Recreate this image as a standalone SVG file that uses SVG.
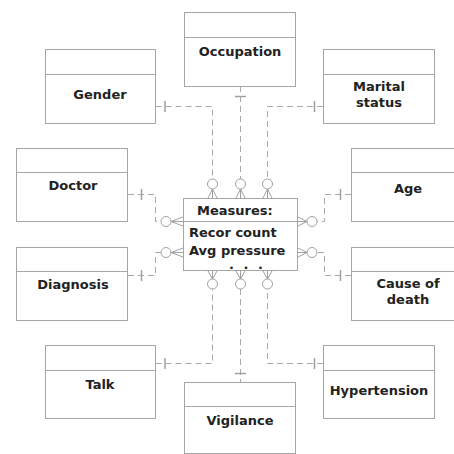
<svg xmlns="http://www.w3.org/2000/svg" width="454" height="454" viewBox="0 0 454 454">
<defs>
<style>
.box{fill:#fff;stroke:#a6a6a6;stroke-width:1}
.hd{stroke:#a6a6a6;stroke-width:1}
.t{font-family:"DejaVu Sans",Verdana,sans-serif;font-weight:bold;font-size:13px;fill:#222;text-anchor:middle}
.tl{font-family:"DejaVu Sans",Verdana,sans-serif;font-weight:bold;font-size:13px;fill:#222}
.d{fill:none;stroke:#a8a8a8;stroke-width:1;stroke-dasharray:6 4}
.s{fill:none;stroke:#a0a0a0;stroke-width:1}
.b{stroke:#a0a0a0;stroke-width:1.5}
.c{fill:#fff;stroke:#a0a0a0;stroke-width:1}
</style>
</defs>
<rect width="454" height="454" fill="#fff"/>
<g id="connectors">
<path class="d" d="M155.5 106.5 H212.5 V179"/>
<line class="b" x1="165" y1="101" x2="165" y2="112" stroke-width="2.5"/>
<path class="d" d="M240.5 86 V179"/>
<line class="b" x1="235" y1="96.5" x2="246" y2="96.5"/>
<path class="d" d="M323 106.5 H267.5 V179"/>
<line class="b" x1="314.5" y1="101" x2="314.5" y2="112"/>
<path class="d" d="M128 194.5 H155.5 V221.5 H161"/>
<line class="b" x1="141.5" y1="189" x2="141.5" y2="200"/>
<path class="d" d="M351 194.5 H324.5 V221.5 H317"/>
<line class="b" x1="340.5" y1="189" x2="340.5" y2="200"/>
<path class="d" d="M128 275.5 H155.5 V252.5 H161"/>
<line class="b" x1="141.5" y1="270" x2="141.5" y2="281"/>
<path class="d" d="M351 275.5 H324.5 V252.5 H317"/>
<line class="b" x1="340.5" y1="270" x2="340.5" y2="281"/>
<path class="d" d="M155.5 363.5 H212.5 V289"/>
<line class="b" x1="165" y1="358" x2="165" y2="369" stroke-width="2.5"/>
<path class="d" d="M240.5 289 V382"/>
<line class="b" x1="235" y1="373.5" x2="246" y2="373.5"/>
<path class="d" d="M323 363.5 H267.5 V289"/>
<line class="b" x1="314.5" y1="358" x2="314.5" y2="369"/>
<g id="feet">
<circle class="c" cx="212.5" cy="184" r="5"/>
<path class="s" d="M212.5 189 L208 198 M212.5 189 V198 M212.5 189 L217 198"/>
<circle class="c" cx="240.5" cy="184" r="5"/>
<path class="s" d="M240.5 189 L236 198 M240.5 189 V198 M240.5 189 L245 198"/>
<circle class="c" cx="267.5" cy="184" r="5"/>
<path class="s" d="M267.5 189 L263 198 M267.5 189 V198 M267.5 189 L272 198"/>
<circle class="c" cx="212.5" cy="284" r="5"/>
<path class="s" d="M212.5 279 L208 271 M212.5 279 V271 M212.5 279 L217 271"/>
<circle class="c" cx="240.5" cy="284" r="5"/>
<path class="s" d="M240.5 279 L236 271 M240.5 279 V271 M240.5 279 L245 271"/>
<circle class="c" cx="267.5" cy="284" r="5"/>
<path class="s" d="M267.5 279 L263 271 M267.5 279 V271 M267.5 279 L272 271"/>
<circle class="c" cx="166" cy="221.5" r="5"/>
<path class="s" d="M171 221.5 L183 217 M171 221.5 H183 M171 221.5 L183 226"/>
<circle class="c" cx="166" cy="252.5" r="5"/>
<path class="s" d="M171 252.5 L183 248 M171 252.5 H183 M171 252.5 L183 257"/>
<circle class="c" cx="312" cy="221.5" r="5"/>
<path class="s" d="M307 221.5 L298 217 M307 221.5 H298 M307 221.5 L298 226"/>
<circle class="c" cx="312" cy="252.5" r="5"/>
<path class="s" d="M307 252.5 L298 248 M307 252.5 H298 M307 252.5 L298 257"/>
</g>
</g>
<g id="measures">
<rect class="box" x="183.5" y="198.5" width="114" height="72"/>
<line class="hd" x1="183.5" y1="221.5" x2="297.5" y2="221.5"/>
<text class="tl" x="197" y="215">Measures:</text>
<text class="tl" x="189" y="237">Recor count</text>
<text class="tl" x="189" y="255">Avg pressure</text>
<text class="tl" x="229" y="268.5" font-size="9" letter-spacing="2.5">. . .</text>
</g>
<g id="occupation">
<rect class="box" x="184.5" y="12.5" width="111" height="74"/>
<line class="hd" x1="184.5" y1="37.5" x2="295.5" y2="37.5"/>
<text class="t" x="240" y="56">Occupation</text>
</g>
<g id="gender">
<rect class="box" x="45.5" y="49.5" width="110" height="74"/>
<line class="hd" x1="45.5" y1="74.5" x2="155.5" y2="74.5"/>
<text class="t" x="100" y="99">Gender</text>
</g>
<g id="marital">
<rect class="box" x="323.5" y="49.5" width="111" height="74"/>
<line class="hd" x1="323.5" y1="74.5" x2="434.5" y2="74.5"/>
<text class="t" x="379" y="91">Marital</text>
<text class="t" x="379" y="107">status</text>
</g>
<g id="doctor">
<rect class="box" x="16.5" y="148.5" width="111" height="73"/>
<line class="hd" x1="16.5" y1="172.5" x2="127.5" y2="172.5"/>
<text class="t" x="73" y="190">Doctor</text>
</g>
<g id="age">
<rect class="box" x="351.5" y="148.5" width="103" height="73"/>
<line class="hd" x1="351.5" y1="172.5" x2="454" y2="172.5"/>
<text class="t" x="408" y="193">Age</text>
</g>
<g id="diagnosis">
<rect class="box" x="16.5" y="247.5" width="111" height="73"/>
<line class="hd" x1="16.5" y1="271.5" x2="127.5" y2="271.5"/>
<text class="t" x="73" y="289">Diagnosis</text>
</g>
<g id="cause">
<rect class="box" x="351.5" y="247.5" width="103" height="73"/>
<line class="hd" x1="351.5" y1="271.5" x2="454" y2="271.5"/>
<text class="t" x="408" y="288">Cause of</text>
<text class="t" x="408" y="304">death</text>
</g>
<g id="talk">
<rect class="box" x="45.5" y="345.5" width="110" height="73"/>
<line class="hd" x1="45.5" y1="370.5" x2="155.5" y2="370.5"/>
<text class="t" x="100" y="389">Talk</text>
</g>
<g id="hypertension">
<rect class="box" x="323.5" y="345.5" width="111" height="73"/>
<line class="hd" x1="323.5" y1="370.5" x2="434.5" y2="370.5"/>
<text class="t" x="379" y="395">Hypertension</text>
</g>
<g id="vigilance">
<rect class="box" x="184.5" y="382.5" width="111" height="71"/>
<line class="hd" x1="184.5" y1="406.5" x2="295.5" y2="406.5"/>
<text class="t" x="240" y="425">Vigilance</text>
</g>
</svg>
